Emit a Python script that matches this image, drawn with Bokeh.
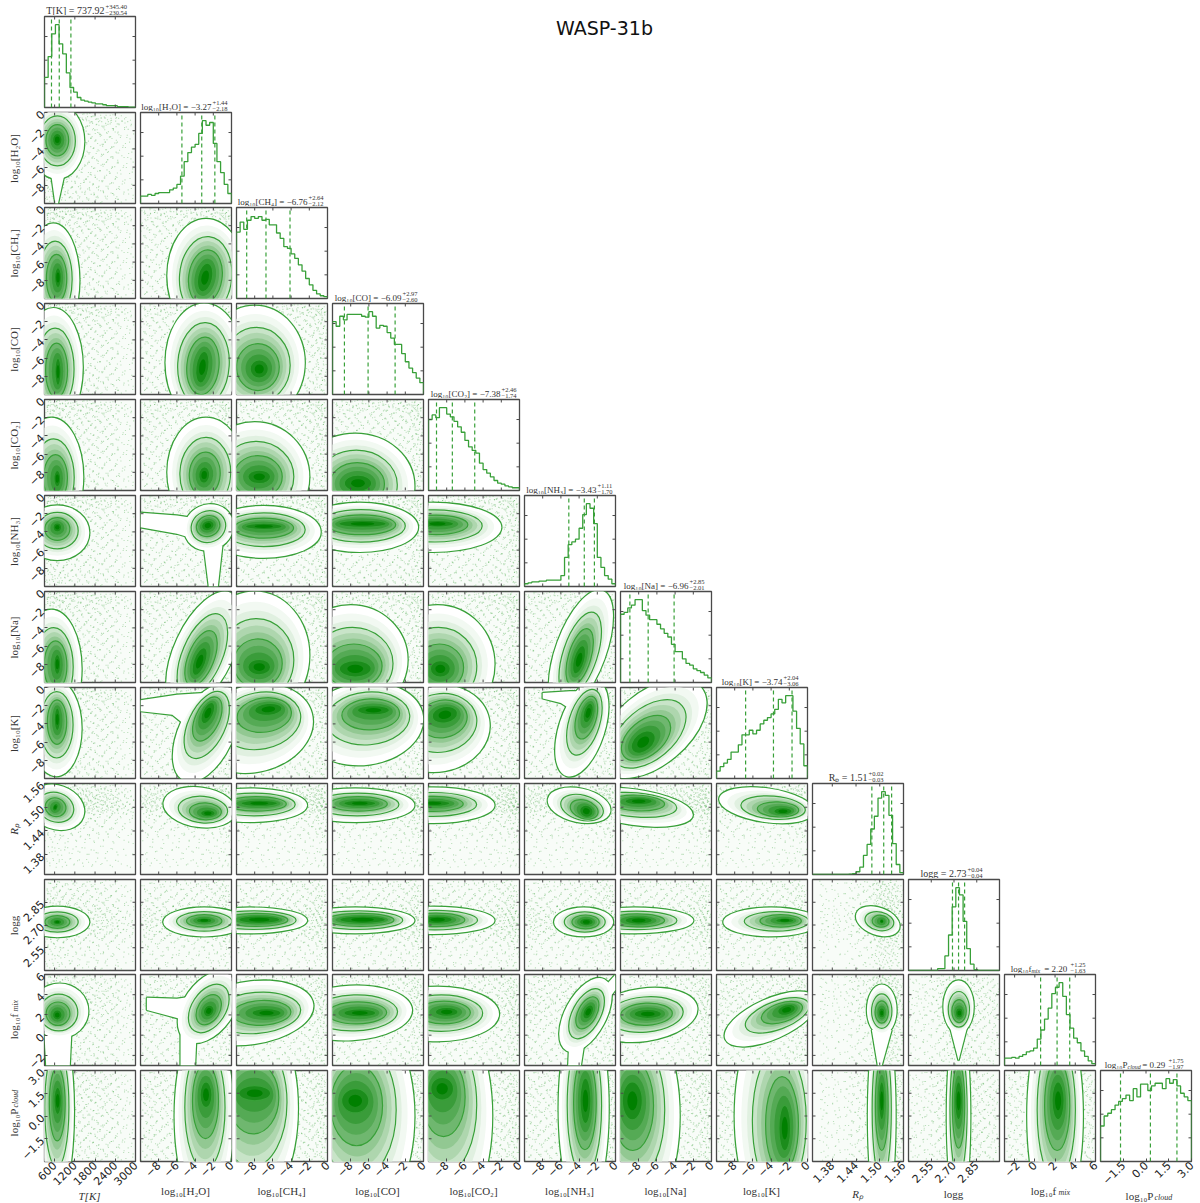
from math import radians, pi
from bokeh.plotting import figure
from bokeh.layouts import row, column
from bokeh.models import Range1d, FixedTicker, Spacer, Div
from bokeh.core.properties import value
from bokeh.embed import file_html
from bokeh.resources import INLINE

names = ["T", "H2O", "CH4", "CO", "CO2", "NH3", "Na", "K", "Rp", "logg", "fmix", "Pcloud"]
limits = [(300, 3000), (-10, 0), (-10, 0), (-10, 0), (-10, 0), (-10, 0), (-10, 0), (-10, 0),
          (1.33, 1.56), (2.4, 3.0), (-3, 6), (-3, 3)]
sp_ticks = [-8, -6, -4, -2, 0]
sp_labels = ["−8", "−6", "−4", "−2", "0"]
ticks = [[600, 1200, 1800, 2400, 3000]] + [sp_ticks] * 7 + [[1.38, 1.44, 1.50, 1.56], [2.55, 2.70, 2.85],
         [-2, 0, 2, 4, 6], [-1.5, 0.0, 1.5, 3.0]]
tick_labels = [["600", "1200", "1800", "2400", "3000"]] + [sp_labels] * 7 + [["1.38", "1.44", "1.50", "1.56"],
               ["2.55", "2.70", "2.85"], ["−2", "0", "2", "4", "6"], ["−1.5", "0.0", "1.5", "3.0"]]
axis_main = ["T[K]", "log₁₀[H₂O]", "log₁₀[CH₄]", "log₁₀[CO]", "log₁₀[CO₂]", "log₁₀[NH₃]", "log₁₀[Na]", "log₁₀[K]",
             "Rₚ", "logg", "log₁₀f", "log₁₀P"]
axis_sub = ["", "", "", "", "", "", "", "", "", "", "mix", "cloud"]

medians = [737.92, -3.27, -6.76, -6.09, -7.38, -3.43, -6.96, -3.74, 1.51, 2.73, 2.20, 0.29]
plus = [345.40, 1.44, 2.64, 2.97, 2.46, 1.11, 2.85, 2.04, 0.02, 0.04, 1.25, 1.75]
minus = [230.54, 2.18, 2.12, 2.60, 1.74, 1.70, 2.01, 3.06, 0.03, 0.04, 1.63, 1.97]
med_text = ["737.92", "−3.27", "−6.76", "−6.09", "−7.38", "−3.43", "−6.96", "−3.74", "1.51", "2.73", "2.20", "0.29"]
script_x = [61, 72, 72, 70, 73, 73, 69, 67, 56, 59, 66, 68]
title_px = ["10px", "9px", "9px", "9px", "9px", "9px", "9px", "9px", "10px", "10px", "9px", "9px"]

hist_T = [33, 56, 81, 91, 70, 59, 38, 22, 17, 11, 8, 7, 6, 5, 4, 4, 3, 2, 2, 2, 1, 1, 1, 0.5, 0.5]
hist_H2O = [8, 8, 10, 9, 11, 12, 12, 12, 15, 17, 21, 30, 46, 56, 62, 65, 77, 91, 86, 89, 66, 46, 34, 21, 11]
hist_CH4 = [73, 84, 76, 86, 90, 88, 90, 86, 87, 81, 81, 72, 66, 57, 55, 49, 44, 37, 30, 22, 15, 9, 5, 3, 2]
hist_CO = [80, 75, 86, 82, 88, 88, 88, 88, 86, 85, 91, 86, 73, 76, 75, 68, 62, 55, 55, 45, 36, 29, 24, 18, 13]
hist_CO2 = [78, 83, 80, 91, 91, 84, 81, 76, 70, 64, 55, 48, 44, 41, 30, 23, 19, 15, 11, 8, 7, 5, 4, 3, 3]
hist_NH3 = [3, 4, 5, 5, 6, 6, 7, 7, 7, 7, 12, 32, 46, 49, 52, 64, 79, 91, 86, 69, 32, 21, 12, 8, 3]
hist_Na = [75, 77, 82, 85, 91, 91, 79, 74, 69, 69, 64, 59, 54, 50, 42, 34, 34, 26, 21, 19, 15, 13, 11, 8, 5]
hist_K = [8, 13, 17, 21, 29, 29, 37, 48, 48, 53, 49, 53, 60, 64, 67, 71, 76, 87, 83, 91, 91, 74, 55, 38, 14]
hist_Rp = [0, 0, 0, 0, 0, 0, 0, 0, 0, 0, 0.5, 1, 3, 8, 21, 33, 50, 64, 84, 91, 87, 65, 34, 11, 2]
hist_g = [0, 0, 0, 0, 0, 0, 0, 0, 2, 2, 16, 39, 70, 91, 83, 54, 24, 7, 1, 0, 0, 0, 0, 0, 0]
hist_f = [8, 8, 9, 8, 10, 12, 15, 16, 19, 29, 39, 51, 63, 79, 86, 91, 76, 56, 41, 30, 25, 16, 10, 5, 2]
hist_P = [39, 50, 53, 57, 62, 66, 69, 73, 67, 80, 71, 85, 85, 78, 83, 86, 86, 80, 91, 86, 90, 83, 75, 71, 67]
hists = [hist_T, hist_H2O, hist_CH4, hist_CO, hist_CO2, hist_NH3, hist_Na, hist_K, hist_Rp, hist_g, hist_f, hist_P]

# Outer contour (cx, cy, w, h, angle) and innermost contour (cx, cy, w, h, angle), keyed by (row, column)
contours = {
 (1,0):((680,-3.2,1600,8.2,0),(680,-3,280,1.4,0)),
 (2,0):((560,-8,1550,12.5,0),(700,-7.7,200,2.2,0)),
 (3,0):((560,-7,1750,13,0),(700,-7.5,180,3,0)),
 (4,0):((500,-8.5,1900,13,0),(680,-8.7,200,1.8,0)),
 (5,0):((680,-4.1,1900,6,0),(680,-3.5,250,1,0)),
 (6,0):((500,-8.5,1800,13,0),(680,-8,200,2.2,0)),
 (7,0):((650,-4.5,1500,10.5,0),(680,-3.5,180,2.5,0)),
 (8,0):((650,1.50,1700,.11,-20),(620,1.5,160,.02,-20)),
 (9,0):((680,2.72,1900,.2,0),(680,2.72,250,.035,0)),
 (10,0):((750,2.4,1700,5.4,0),(680,2,280,1.0,0)),
 (11,0):((650,.3,1050,12,0),(690,1.0,220,1.8,0)),
 (2,1):((-2.8,-7.5,8.5,12.5,0),(-2.9,-7.7,1.6,3.2,-12)),
 (3,1):((-3,-6.5,8.5,13,0),(-3.2,-7,1.4,3.5,-8)),
 (4,1):((-2.8,-8,8.5,12,0),(-3,-8.3,1.2,1.8,-5)),
 (5,1):((-2.5,-3.5,5.5,5,25),(-2.6,-3.3,1.4,1.1,20)),
 (6,1):((-3,-6.5,6.5,14,-25),(-3.5,-7.7,1.3,3.2,-20)),
 (7,1):((-2.8,-5,6,11.5,-25),(-2.6,-2.8,1.2,2.5,-25)),
 (8,1):((-3.5,1.5,8,.10,-8),(-2.6,1.485,1.6,.018,0)),
 (9,1):((-3,2.72,9,.19,0),(-3,2.73,1.7,.035,0)),
 (10,1):((-2.5,2.8,5.5,8,-35),(-2.5,2.4,1.1,1.2,-30)),
 (11,1):((-3,0,6.5,12.5,0),(-2.8,1.4,1.3,1.7,0)),
 (3,2):((-8,-6.5,11,12.5,0),(-7.5,-7.2,2,2,0)),
 (4,2):((-8,-8.5,12,12,0),(-7.5,-8.5,2.5,1.5,0)),
 (5,2):((-7,-4,12.5,5.7,0),(-7,-3.4,4,.7,0)),
 (6,2):((-8,-7,12,14,0),(-7.5,-8.3,2.5,1.7,0)),
 (7,2):((-8,-4.5,13,9.5,15),(-6.5,-2.4,3,1.3,5)),
 (8,2):((-8.5,1.505,12.5,.085,0),(-7.5,1.51,4,.016,0)),
 (9,2):((-8.5,2.73,12.5,.17,0),(-7.5,2.735,4.5,.05,0)),
 (10,2):((-8.5,2.2,14,6.2,8),(-6.7,2.2,3.2,.85,0)),
 (11,2):((-8.5,.5,10.5,13.5,0),(-8,1.5,3.5,1.0,0)),
 (4,3):((-7.5,-9.5,13,11.5,0),(-7.2,-9.2,3,1.8,0)),
 (5,3):((-7,-3.5,12.8,5.4,0),(-6.7,-3.1,5.2,.8,0)),
 (6,3):((-8,-7.5,12.5,12,0),(-7.5,-8.5,3.5,1.8,0)),
 (7,3):((-6.5,-4,13,9,8),(-5.5,-2.5,3.5,1,0)),
 (8,3):((-7.5,1.505,13,.085,0),(-7,1.51,3.5,.016,0)),
 (9,3):((-7.5,2.73,13,.17,0),(-6.7,2.735,5,.05,0)),
 (10,3):((-8,2.2,13.5,5.4,3),(-7,2.2,3.5,.8,0)),
 (11,3):((-7,0,12,14,0),(-7.5,1,3,1.6,0)),
 (5,4):((-9.5,-3.5,15,5.4,0),(-9,-3.1,3.5,.75,0)),
 (6,4):((-9,-8,12.5,13,0),(-8.7,-8.5,2.2,1.8,0)),
 (7,4):((-9,-4.5,11.5,9.5,10),(-8.2,-3,2.8,1.8,10)),
 (8,4):((-9.5,1.505,13.5,.09,0),(-9.5,1.51,3.7,.016,0)),
 (9,4):((-9.5,2.73,13.5,.18,0),(-9,2.735,3.2,.05,0)),
 (10,4):((-9,2.1,13.5,5.4,0),(-8,2.3,2.5,.9,0)),
 (11,4):((-8,0,10,14,0),(-8.5,1.8,2.5,1.5,0)),
 (6,5):((-3.8,-6.5,5.5,14,-20),(-4,-7.5,1.2,3.2,-15)),
 (7,5):((-3.7,-4.5,5,11,-18),(-3,-2.8,1.0,2.2,-15)),
 (8,5):((-4,1.505,7,.085,-12),(-3.2,1.49,1.5,.03,-20)),
 (9,5):((-3.5,2.72,6.5,.19,0),(-3.2,2.72,1.5,.05,0)),
 (10,5):((-3.3,2,4.5,8,-28),(-3,2.3,1,1.5,-28)),
 (11,5):((-3.5,.5,5.5,13.5,0),(-3.3,1,1.2,3,0)),
 (7,6):((-6.5,-4.5,14,8,40),(-7.5,-6,3,2,40)),
 (8,6):((-8.5,1.5,13,.09,-8),(-8,1.515,3,.018,0)),
 (9,6):((-8.5,2.73,13,.17,0),(-8,2.73,3,.05,0)),
 (10,6):((-7.5,2,12,5.2,8),(-7,2.1,3,.9,0)),
 (11,6):((-8.5,0,10,14,0),(-8.7,1,2.2,2.5,0)),
 (8,7):((-4.5,1.505,10.5,.085,-8),(-2.7,1.49,2,.018,0)),
 (9,7):((-4,2.72,10.5,.19,0),(-2.5,2.73,2,.035,0)),
 (10,7):((-4,1.6,11,4,24),(-2.3,2.5,2,1,15)),
 (11,7):((-3.5,0,9,14,0),(-2.5,-.8,1.3,3,0)),
 (9,8):((1.495,2.725,.115,.18,-20),(1.505,2.725,.012,.035,0)),
 (10,8):((1.505,2.5,.075,5,0),(1.505,2.2,.016,1,0)),
 (11,8):((1.505,0,.07,14,0),(1.505,1,.016,2.5,0)),
 (10,9):((2.73,2.8,.2,5.2,0),(2.735,2.2,.05,1,0)),
 (11,9):((2.73,0,.155,13,0),(2.73,1,.05,2.5,0)),
 (11,10):((2,0,5.5,14,0),(2.3,1,1.2,2.5,0)),
}
# Extra lobes of the outermost contour
tails = {
 (1,0):[[(430,-5),(620,-10),(700,-10),(1000,-5)]],
 (5,1):[[(-10,-1.9),(-6,-2.2),(-4,-2.5),(-4,-4.8),(-6,-4.2),(-10,-3.5)],[(-3,-6),(-2.5,-10),(-1.5,-10),(-1,-5.5)]],
 (7,1):[[(-10,-1.4),(-6,-.8),(-3,-.6),(-4,-5),(-6.5,-3),(-10,-2.6)]],
 (10,0):[[(350,-3),(300,0),(1100,.5),(1050,-3)]],
 (10,1):[[(-9.3,3.7),(-6,3.6),(-3,4),(-4,1),(-6,1.7),(-9.3,2.5)],[(-5.6,-3),(-5.6,1),(-3.8,1),(-4,-3)]],
 (7,5):[[(-8,-.6),(-5,-.4),(-3,-.4),(-4,-3),(-6,-1.7),(-8,-1.2)]],
 (10,5):[[(-5.2,-3),(-5,1),(-3.2,.5),(-3.8,-3)],[(-3,3),(0,6),(0,4.5),(-2,2)]],
 (10,8):[[(1.495,-3),(1.48,.5),(1.53,.5),(1.505,-3)]],
 (10,9):[[(2.67,1),(2.73,-2.5),(2.79,1)]],
}
# Sparse cloud of samples outside the contours: values per parameter
cloud_T = [340, 420, 510, 620, 700, 790, 880, 1010, 1130, 1240, 1390, 1510, 1660, 1780, 1930, 2060, 2210, 2370, 2540, 2810]
cloud_log = [-9.7, -9.1, -8.6, -8.0, -7.4, -6.9, -6.2, -5.7, -5.1, -4.6, -4.0, -3.5, -2.9, -2.4, -2.0, -1.5, -1.1, -.8, -.5, -.2]
cloud_Rp = [1.36, 1.39, 1.42, 1.44, 1.455, 1.47, 1.48, 1.49, 1.495, 1.50, 1.505, 1.51, 1.515, 1.52, 1.525, 1.53, 1.535, 1.54, 1.55, 1.555]
cloud_g = [2.42, 2.48, 2.53, 2.58, 2.61, 2.64, 2.66, 2.68, 2.70, 2.72, 2.74, 2.76, 2.78, 2.80, 2.82, 2.85, 2.88, 2.91, 2.95, 2.98]
cloud_f = [-2.7, -2.1, -1.6, -1, -.4, .1, .7, 1.1, 1.6, 2, 2.4, 2.8, 3.2, 3.5, 3.9, 4.2, 4.6, 5, 5.4, 5.8]
cloud_P = [-2.8, -2.5, -2.2, -1.8, -1.5, -1.2, -.9, -.6, -.3, .1, .3, .6, 1, 1.2, 1.5, 1.8, 2, 2.3, 2.6, 2.9]
clouds = [cloud_T] + [cloud_log] * 7 + [cloud_Rp, cloud_g, cloud_f, cloud_P]
cloud_shift = [.3, -.7, .9, -.2, .6, -.9, .1, .8, -.5, .4, -.1, .7, -.8, .2, -.4, 1.0, -.6, .5, -.3, -1.0]
cloud_shift2 = [-.4, .8, -.1, .5, -1.0, .2, .7, -.6, .9, -.3, .6, -.8, .1, -.5, 1.0, -.2, .4, -.9, .3, -.7]

GREEN = "#38a038"
EDGE = "#4a4a4a"
INK = "#333333"
SERIF = value("Liberation Serif")
Y0 = [16, 112, 207, 303, 399, 495, 591, 687, 783, 879, 974, 1070]
FW = FH = 91
LEFT0 = 30
layer_f = [1.0, .85, .72, .6, .5, .4, .3, .2, .1, 0.0, -.5]
layer_c = ["#ffffff", "#f2f9f2", "#e0f0e0", "#c8e4c8", "#aed6ae", "#92c892", "#6fb76f", "#55aa55", "#3a9c3a", "#1b8c1b", "#008000"]
line_f = {1.0, .6, .3, 0.0}


def mix(o, i, f):
    if f < 0:
        return [i[0], i[1], i[2] * (1 + f), i[3] * (1 + f), i[4]]
    return [i[k] + (o[k] - i[k]) * f for k in range(5)]


def strip(w, h, left=0, right=0, bottom=0, top=0):
    """A bare figure that only carries text, with pixel-sized ranges."""
    p = figure(frame_width=w, frame_height=h, x_range=Range1d(0, w), y_range=Range1d(0, h),
               x_axis_type=None, y_axis_type=None, toolbar_location=None, output_backend="svg",
               min_border_left=left, min_border_right=right, min_border_top=top, min_border_bottom=bottom)
    p.grid.visible = False
    p.outline_line_color = None
    p.border_fill_color = None
    p.background_fill_color = None
    return p


def words(p, x, y, txt, size, align="left", style="normal", angle=0.0):
    p.text(x=[x], y=[y], text=[txt], text_font=SERIF, text_font_size=size, text_align=align,
           text_baseline="middle", text_color=INK, text_font_style=style, angle=angle)


def title_strip(c):
    p = strip(FW, 14, left=LEFT0 if c == 0 else 1, right=4)
    ax = script_x[c]
    sz = title_px[c]
    if axis_sub[c]:
        cut = 27
        words(p, cut, 5, axis_main[c], sz, "right")
        words(p, cut, 3, axis_sub[c], "6px", "left", "italic")
        words(p, ax - 1, 5, " = " + med_text[c], sz, "right")
    else:
        words(p, ax - 1, 5, axis_main[c] + " = " + med_text[c], sz, "right")
    words(p, ax, 9, "+%.2f" % plus[c], "6.5px")
    words(p, ax, 3, "−%.2f" % minus[c], "6.5px")
    return p


def xlabel_strip(c):
    p = strip(FW, 14, left=LEFT0 if c == 0 else 1, right=4)
    st = "italic" if c in (0, 8) else "normal"
    if axis_sub[c]:
        words(p, 39, 10, axis_main[c], "11px", "center", st)
        words(p, 54, 8, axis_sub[c], "8px", "left", "italic")
    else:
        words(p, 45, 10, axis_main[c], "11px", "center", st)
    return p


def ylabel_strip(r):
    gap = (Y0[r + 1] - Y0[r] - FH) if r < 11 else 0
    p = strip(20, FH, top=1, bottom=max(gap - 1, 0))
    st = "italic" if r in (0, 8) else "normal"
    if axis_sub[r]:
        words(p, 11, 39, axis_main[r], "11px", "center", st, pi / 2)
        words(p, 13, 54, axis_sub[r], "8px", "left", "italic", pi / 2)
    else:
        words(p, 11, 45, axis_main[r], "11px", "center", st, pi / 2)
    return p


def style_axis(ax, tk, tl):
    ax.axis_line_color = None
    ax.major_tick_in, ax.major_tick_out = 3, 0
    ax.minor_tick_line_color = None
    ax.major_tick_line_color = EDGE
    ax.ticker = FixedTicker(ticks=tk)
    ax.major_label_overrides = dict(zip(tk, tl))
    ax.major_label_orientation = pi / 4
    ax.major_label_text_font = "DejaVu Sans"
    ax.major_label_text_font_size = "11px"
    ax.major_label_text_color = "#222222"
    ax.major_label_standoff = 2


def panel(r, c):
    diag = r == c
    gap = (Y0[r + 1] - Y0[r] - FH) if r < 11 else 0
    xr = limits[c]
    yr = (0, 100) if diag else limits[r]
    lab_x = r == 11
    lab_y = c == 0 and not diag
    p = figure(frame_width=FW, frame_height=FH, x_range=Range1d(*xr), y_range=Range1d(*yr),
               toolbar_location=None, output_backend="svg",
               min_border_left=LEFT0 if c == 0 else 1, min_border_right=4,
               min_border_top=15 if lab_y else 1,
               min_border_bottom=25 if r == 11 else max(gap - 1, 0),
               margin=(-14, 0, 0, 0) if lab_y else (0, 0, 0, 0))
    p.grid.visible = False
    p.outline_line_color = EDGE
    p.outline_line_width = 1.3
    p.border_fill_color = None
    p.background_fill_color = "#ffffff" if diag else "#f8fcf8"
    ytk = [26, 52, 78] if diag else ticks[r]
    ytl = [] if diag else tick_labels[r]
    if lab_x:
        style_axis(p.xaxis[0], ticks[c], tick_labels[c])
    else:
        p.xaxis.visible = False
    if lab_y:
        style_axis(p.yaxis[0], ytk, ytl)
    else:
        p.yaxis.visible = False

    if diag:
        lo, hi = limits[c]
        vals = hists[c]
        edges = [lo + (hi - lo) * k / len(vals) for k in range(len(vals) + 1)]
        p.step(x=[lo] + edges, y=[0] + vals + [0], mode="after", line_color=GREEN, line_width=1.3)
        q = [medians[c] - minus[c], medians[c], medians[c] + plus[c]]
        p.segment(x0=q, y0=[0] * 3, x1=q, y1=[100] * 3, line_color=GREEN, line_width=1.2, line_dash="4 3")
    else:
        xs, ys = [], []
        dx = (xr[1] - xr[0]) / 20
        dy = (yr[1] - yr[0]) / 20
        for ia, a in enumerate(clouds[c]):
            for ib, b in enumerate(clouds[r]):
                xs.append(a + cloud_shift[ib] * dx)
                ys.append(b + cloud_shift[ia] * dy)
                xs.append(a + cloud_shift2[ib] * dx)
                ys.append(b + cloud_shift2[ia] * dy)
        p.scatter(x=xs, y=ys, marker="square", size=1.1, line_color=None, fill_color="#2f9a2f", fill_alpha=.3)
        o, i = contours[(r, c)]
        lobes = tails.get((r, c), [])
        # outline of the outer contour first, then its white body over it, so lobes merge
        p.ellipse(x=o[0], y=o[1], width=o[2], height=o[3], angle=radians(o[4]), fill_color=None,
                  line_color=GREEN, line_width=2.4)
        for lobe in lobes:
            p.patch(x=[q[0] for q in lobe], y=[q[1] for q in lobe], fill_color=None, line_color=GREEN, line_width=2.4)
        for lobe in lobes:
            p.patch(x=[q[0] for q in lobe], y=[q[1] for q in lobe], fill_color="#ffffff", line_color=None)
        for f, col in zip(layer_f, layer_c):
            e = mix(o, i, f)
            has_line = f in line_f and f != 1.0
            p.ellipse(x=e[0], y=e[1], width=e[2], height=e[3], angle=radians(e[4]), fill_color=col,
                      line_color=GREEN if has_line else None, line_width=1.2)

    # tick marks on the sides that carry no labelled axis
    tx = 3 / FW * (xr[1] - xr[0])
    ty = 3 / FH * (yr[1] - yr[0])
    if not lab_x:
        p.segment(x0=ticks[c], y0=[yr[0]] * len(ticks[c]), x1=ticks[c], y1=[yr[0] + ty] * len(ticks[c]), line_color=EDGE, line_width=1)
    p.segment(x0=ticks[c], y0=[yr[1]] * len(ticks[c]), x1=ticks[c], y1=[yr[1] - ty] * len(ticks[c]), line_color=EDGE, line_width=1)
    if not lab_y:
        p.segment(x0=[xr[0]] * len(ytk), y0=ytk, x1=[xr[0] + tx] * len(ytk), y1=ytk, line_color=EDGE, line_width=1)
    p.segment(x0=[xr[1]] * len(ytk), y0=ytk, x1=[xr[1] - tx] * len(ytk), y1=ytk, line_color=EDGE, line_width=1)
    return p


cols = []
# column of y-axis names
ykids = [Spacer(width=20, height=Y0[1] - 2)]
for r in range(1, 12):
    ykids.append(ylabel_strip(r))
cols.append(column(*ykids, spacing=0))

for c in range(12):
    kids = []
    head = Y0[c] - 15 - 1
    if c == 5:
        kids.append(Div(text="WASP-31b", width=60, height=34, margin=(14, 3, 0, 33),
                        styles={"white-space": "nowrap", "font-size": "19px", "font-family": "DejaVu Sans",
                                "color": "#111111", "overflow": "visible"}))
        head -= 48
    if head > 0:
        kids.append(Spacer(width=1, height=head))
    kids.append(title_strip(c))
    for r in range(c, 12):
        kids.append(panel(r, c))
    kids.append(xlabel_strip(c))
    cols.append(column(*kids, spacing=0, margin=(0, 0, 0, -8) if c == 0 else (0, 0, 0, 0)))

page = row(*cols, spacing=0, margin=(1, 0, 0, 2))
open("out.html", "w").write(file_html(page, INLINE))
